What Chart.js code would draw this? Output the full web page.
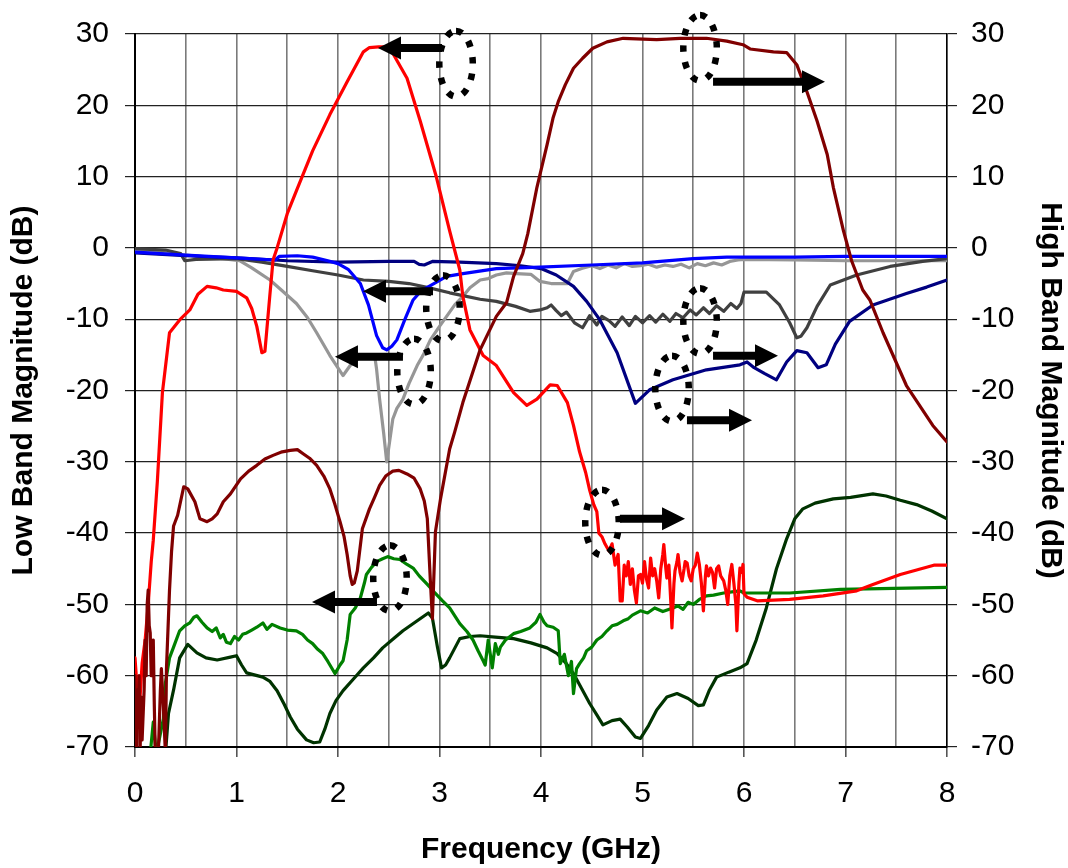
<!DOCTYPE html>
<html>
<head>
<meta charset="utf-8">
<script src="https://cdn.jsdelivr.net/npm/chart.js@4.4.1/dist/chart.umd.min.js"></script>
<style>
  html, body { margin: 0; padding: 0; background: #ffffff; }
  #wrap { width: 1068px; height: 868px; }
</style>
</head>
<body>
<div id="wrap"><canvas id="c" width="1068" height="868"></canvas></div>
<script>
// ---------------- DATA (frequency GHz, magnitude dB) ----------------
const xTickValues = [0, 1, 2, 3, 4, 5, 6, 7, 8];
const yTickValues = [30, 20, 10, 0, -10, -20, -30, -40, -50, -60, -70];

// High band S21 (maroon, right axis)
const highS21 = [[0,-60],[0.01,-71],[0.015,-62],[0.02,-64],[0.03,-66],[0.04,-60],[0.05,-71],[0.06,-63],[0.07,-69],[0.09,-62],[0.1,-55],[0.11,-60],[0.12,-50],[0.13,-48],[0.14,-53],[0.15,-54],[0.16,-60],[0.17,-56],[0.18,-55],[0.19,-64],[0.2,-71],[0.23,-71],[0.25,-62],[0.26,-59],[0.28,-64.5],[0.3,-71],[0.31,-59],[0.34,-48],[0.36,-42.6],[0.38,-39],[0.42,-37.5],[0.48,-33.5],[0.52,-33.8],[0.59,-35.6],[0.64,-38],[0.71,-38.4],[0.76,-38],[0.81,-37.3],[0.87,-35.6],[0.94,-34.5],[1.04,-32.4],[1.12,-31.3],[1.2,-30.5],[1.28,-29.6],[1.36,-29.1],[1.45,-28.6],[1.53,-28.4],[1.6,-28.3],[1.66,-28.9],[1.72,-29.5],[1.79,-30.5],[1.86,-32],[1.92,-33.8],[1.97,-36],[2.02,-38.4],[2.06,-40.5],[2.09,-43],[2.12,-46],[2.14,-47.2],[2.16,-47],[2.19,-45.3],[2.24,-39.4],[2.31,-36.6],[2.36,-35],[2.41,-33.3],[2.47,-32],[2.54,-31.3],[2.6,-31.2],[2.68,-31.7],[2.75,-32.3],[2.81,-33.8],[2.85,-35.5],[2.88,-38],[2.91,-46.7],[2.93,-52],[2.96,-39.8],[3.01,-35.2],[3.1,-28.2],[3.15,-25.8],[3.23,-21.7],[3.4,-14.3],[3.56,-9.6],[3.66,-7.7],[3.73,-4],[3.82,-0.8],[3.87,2],[3.96,8.5],[4.06,14.5],[4.12,18.3],[4.17,20.5],[4.24,22.9],[4.32,25.2],[4.41,26.6],[4.51,28],[4.65,28.9],[4.81,29.4],[5.14,29.2],[5.37,29.4],[5.63,29.4],[5.83,29],[5.99,28.5],[6.06,27.9],[6.29,27.5],[6.42,27.4],[6.52,25.7],[6.62,21.9],[6.72,17.8],[6.82,13.1],[6.88,8.5],[6.98,2.4],[7.06,-1.8],[7.17,-5.9],[7.24,-7.3],[7.37,-11.9],[7.6,-19.3],[7.86,-24.9],[8,-27.2]];

// Low band S21 (red, left axis)
const lowS21 = [[0,-57.5],[0.02,-61.6],[0.03,-66],[0.05,-63],[0.07,-58.3],[0.1,-55],[0.13,-50],[0.16,-44],[0.18,-41],[0.22,-32.8],[0.27,-20.3],[0.34,-11.9],[0.44,-10.1],[0.54,-8.7],[0.62,-6.5],[0.71,-5.4],[0.8,-5.6],[0.87,-5.9],[1.0,-6.1],[1.1,-7],[1.15,-8.5],[1.2,-11],[1.25,-14.7],[1.28,-14.5],[1.33,-6.4],[1.36,-1.7],[1.4,0],[1.5,4.8],[1.59,8],[1.75,13.6],[1.92,18.7],[2.09,23.3],[2.25,27.5],[2.31,28.1],[2.4,28.2],[2.46,28.2],[2.54,27.3],[2.68,23.8],[2.81,17.8],[2.97,9.9],[3.1,2.4],[3.2,-3.1],[3.23,-6.8],[3.3,-11.5],[3.43,-15.1],[3.56,-16.5],[3.73,-20.3],[3.86,-22.1],[3.96,-21.2],[4.09,-19.2],[4.16,-19.3],[4.26,-21.7],[4.32,-24.9],[4.38,-28.6],[4.44,-31.5],[4.48,-34],[4.52,-36],[4.55,-37],[4.57,-40],[4.6,-40.5],[4.63,-41.5],[4.67,-42.5],[4.7,-41.5],[4.73,-44.5],[4.76,-43],[4.78,-49.5],[4.8,-49.5],[4.82,-44.5],[4.84,-46],[4.86,-44],[4.88,-47.2],[4.9,-45],[4.92,-48],[4.94,-49.8],[4.96,-46],[4.98,-45.8],[5.0,-47],[5.02,-44],[5.04,-46.5],[5.06,-47.7],[5.08,-43.5],[5.1,-46],[5.12,-45],[5.14,-46.7],[5.16,-49.1],[5.18,-45],[5.2,-43],[5.21,-41.6],[5.23,-45],[5.24,-46.3],[5.26,-44.5],[5.28,-50],[5.29,-53.3],[5.31,-47],[5.32,-45.3],[5.34,-44],[5.35,-43],[5.37,-45.5],[5.39,-46.7],[5.41,-45],[5.42,-44],[5.44,-44.2],[5.46,-46],[5.48,-46.7],[5.5,-45],[5.52,-44.5],[5.54,-42.8],[5.56,-44.4],[5.58,-47],[5.6,-50.9],[5.62,-46],[5.63,-44.6],[5.65,-46],[5.67,-44.9],[5.69,-45.5],[5.71,-47.7],[5.73,-45],[5.75,-44.6],[5.77,-46],[5.8,-46.7],[5.82,-48],[5.84,-50],[5.86,-46],[5.88,-44.4],[5.9,-47],[5.92,-50],[5.93,-53.7],[5.95,-47],[5.96,-44.9],[5.98,-45.5],[5.99,-44.4],[6.0,-48.5],[6.03,-49],[6.13,-49.5],[6.45,-49.3],[6.78,-48.8],[7.11,-48.1],[7.27,-47.2],[7.54,-45.8],[7.87,-44.5],[8,-44.5]];

// Low band S11 (blue, left axis)
const lowS11 = [[0,-0.6],[0.5,-1.0],[1.0,-1.4],[1.38,-1.7],[1.42,-1.2],[1.6,-1.1],[1.75,-1.3],[1.9,-1.8],[2.0,-2.2],[2.1,-3],[2.22,-5],[2.3,-8],[2.38,-12.3],[2.44,-14],[2.48,-14.3],[2.53,-13.8],[2.58,-12.9],[2.66,-10],[2.74,-7.3],[2.82,-6],[2.91,-5.3],[3.07,-4],[3.23,-3.6],[3.56,-2.9],[3.99,-2.7],[4.5,-2.4],[5.0,-2.1],[5.5,-1.5],[5.83,-1.3],[6.5,-1.3],[7,-1.2],[8,-1.2]];

// High band S11 (navy, right axis)
const highS11 = [[0,-0.7],[0.5,-1.1],[1.0,-1.4],[1.5,-1.8],[2.0,-2.0],[2.5,-1.9],[2.75,-1.9],[2.8,-2.3],[2.85,-2.4],[2.93,-1.9],[3.2,-2.0],[3.56,-2.2],[3.8,-2.5],[4.0,-2.9],[4.15,-3.8],[4.32,-5.4],[4.45,-7.5],[4.58,-10.1],[4.75,-14.7],[4.93,-21.8],[5.07,-19.9],[5.3,-18.5],[5.63,-17.1],[5.96,-16.4],[6.03,-16],[6.1,-16.8],[6.2,-17.6],[6.32,-18.5],[6.42,-16],[6.52,-14.4],[6.62,-14.7],[6.73,-16.8],[6.81,-16.4],[6.9,-13.5],[7.04,-10.3],[7.27,-8],[7.6,-6.4],[7.8,-5.5],[8,-4.5]];

// High band isolation (dark gray, right axis)
const highIso = [[0,-0.1],[0.3,-0.3],[0.45,-0.8],[0.49,-1.8],[0.6,-1.6],[1.0,-1.5],[1.25,-2.0],[1.5,-2.6],[1.75,-3.2],[2.0,-3.8],[2.25,-4.5],[2.5,-4.7],[2.7,-5.0],[2.9,-5.6],[3.1,-6.3],[3.23,-6.7],[3.4,-7.2],[3.56,-7.5],[3.75,-8.2],[3.89,-8.9],[3.99,-8.7],[4.06,-8.4],[4.1,-8.0],[4.15,-8.8],[4.2,-9.5],[4.25,-9.0],[4.33,-10.5],[4.41,-11.2],[4.48,-9.5],[4.55,-10.8],[4.6,-9.6],[4.67,-10.2],[4.73,-11.0],[4.8,-9.7],[4.87,-10.9],[4.93,-9.6],[5.0,-10.5],[5.07,-9.5],[5.13,-10.4],[5.2,-9.3],[5.27,-10.3],[5.33,-9.2],[5.4,-9.8],[5.47,-8.7],[5.53,-9.4],[5.6,-8.4],[5.66,-9.2],[5.73,-8.1],[5.8,-8.9],[5.87,-7.8],[5.93,-8.5],[5.97,-7.8],[6.0,-6.2],[6.22,-6.2],[6.35,-8],[6.45,-10.5],[6.52,-12.6],[6.56,-12.4],[6.62,-11.2],[6.72,-8.2],[6.85,-5.2],[7.11,-3.8],[7.44,-2.6],[7.76,-1.9],[8,-1.5]];

// Low band isolation (light gray, left axis)
const lowIso = [[0,-0.2],[0.1,-0.4],[0.5,-1.0],[0.8,-1.4],[1.03,-1.8],[1.15,-2.8],[1.33,-4.5],[1.45,-6],[1.59,-7.8],[1.7,-9.8],[1.79,-11.9],[1.92,-15.1],[2.05,-17.9],[2.12,-16.5],[2.25,-15],[2.36,-15],[2.38,-17],[2.41,-21.2],[2.45,-26],[2.48,-30],[2.51,-27],[2.54,-24],[2.58,-22.5],[2.64,-21.2],[2.7,-19],[2.78,-16.5],[2.84,-15],[2.91,-12.9],[3.0,-11],[3.07,-9.6],[3.15,-8],[3.23,-6.8],[3.3,-5.6],[3.4,-4.5],[3.48,-4.3],[3.56,-3.8],[3.66,-3.5],[3.76,-3.6],[3.9,-3.7],[3.99,-4.7],[4.1,-5],[4.26,-5],[4.32,-3.3],[4.4,-2.9],[4.5,-2.5],[4.58,-2.9],[4.66,-2.4],[4.74,-2.8],[4.82,-2.2],[4.9,-2.6],[4.98,-2.5],[5.06,-2.3],[5.14,-2.7],[5.22,-2.4],[5.3,-2.6],[5.38,-2.3],[5.46,-2.8],[5.54,-2.2],[5.62,-2.5],[5.7,-2.1],[5.78,-2.4],[5.86,-1.9],[5.94,-1.7],[6.0,-1.6],[6.5,-1.7],[7,-1.8],[7.5,-1.8],[8,-1.8]];

// Low band out-of-band (green, left axis)
const lowOut = [[0.15,-71],[0.18,-66.5],[0.21,-71],[0.28,-66],[0.3,-61],[0.34,-57.5],[0.38,-56],[0.44,-53.7],[0.49,-53],[0.54,-52.6],[0.58,-51.8],[0.61,-51.6],[0.66,-52.5],[0.71,-53.3],[0.76,-53.8],[0.8,-53.3],[0.84,-54.7],[0.87,-54.2],[0.9,-55.3],[0.94,-55.5],[0.98,-54.5],[1.02,-55],[1.06,-54.2],[1.1,-54],[1.15,-53.6],[1.2,-53.2],[1.26,-52.6],[1.3,-53.5],[1.35,-52.8],[1.43,-53.3],[1.5,-53.6],[1.59,-53.7],[1.65,-54.2],[1.7,-55],[1.75,-55.5],[1.8,-56.3],[1.85,-56.9],[1.9,-58],[1.97,-59.7],[2.02,-58.5],[2.05,-57.9],[2.09,-55],[2.12,-51.4],[2.17,-50.5],[2.22,-49.1],[2.26,-47],[2.28,-45.8],[2.33,-44.8],[2.38,-44],[2.44,-43.6],[2.49,-43.3],[2.55,-43.6],[2.61,-43.7],[2.68,-44.4],[2.74,-44.9],[2.8,-46],[2.88,-47.2],[2.95,-48.3],[3.03,-49.5],[3.1,-50.5],[3.2,-52.7],[3.27,-53.8],[3.33,-55],[3.38,-56.5],[3.43,-57.9],[3.45,-58.5],[3.48,-55],[3.52,-58.9],[3.55,-55.5],[3.58,-57],[3.6,-56],[3.65,-55],[3.73,-54.1],[3.8,-53.8],[3.89,-53.3],[3.95,-52.5],[3.99,-51.4],[4.03,-52.5],[4.06,-53],[4.12,-53.2],[4.17,-53.7],[4.19,-58.3],[4.23,-57],[4.27,-60],[4.3,-58],[4.32,-62.5],[4.35,-59],[4.38,-58.3],[4.42,-57.5],[4.45,-56.5],[4.5,-56],[4.55,-55],[4.6,-54.5],[4.65,-53.7],[4.7,-53],[4.75,-52.8],[4.81,-52.3],[4.86,-52],[4.9,-51.5],[4.98,-50.9],[5.05,-51.2],[5.12,-50.5],[5.2,-51],[5.3,-50.5],[5.35,-50.2],[5.4,-50.7],[5.45,-49.7],[5.5,-50],[5.56,-49.3],[5.63,-48.8],[5.7,-48.7],[5.8,-48.4],[5.9,-48.2],[5.96,-48.1],[6.0,-48.4],[6.45,-48.4],[6.95,-47.9],[8,-47.6]];

// High band out-of-band (dark green, right axis)
const highOut = [[0.3,-71],[0.33,-65.3],[0.38,-62],[0.44,-57.5],[0.52,-55.6],[0.61,-56.8],[0.7,-57.5],[0.81,-57.8],[0.94,-57.4],[1.0,-57.2],[1.05,-58.5],[1.1,-59.6],[1.26,-60.2],[1.33,-60.8],[1.4,-62.1],[1.47,-64],[1.53,-65.8],[1.6,-67.5],[1.69,-69],[1.76,-69.4],[1.82,-69.3],[1.87,-67.5],[1.92,-65.3],[1.98,-63.5],[2.05,-62.1],[2.15,-60.5],[2.25,-58.9],[2.35,-57.5],[2.44,-56.1],[2.54,-54.9],[2.64,-53.7],[2.77,-52.4],[2.89,-51.2],[2.93,-51.9],[2.98,-56],[3.02,-58.9],[3.06,-58.5],[3.1,-57.5],[3.2,-54.8],[3.3,-54.5],[3.4,-54.4],[3.55,-54.6],[3.73,-54.8],[3.9,-55.4],[4.06,-56.1],[4.16,-56.9],[4.25,-58.3],[4.32,-59.7],[4.4,-61.8],[4.48,-63.9],[4.55,-65.5],[4.61,-66.9],[4.7,-66.3],[4.78,-66.1],[4.85,-67.2],[4.93,-68.6],[4.98,-68.8],[5.06,-67],[5.14,-64.8],[5.24,-63],[5.34,-62.5],[5.45,-63.2],[5.55,-64.2],[5.6,-64.1],[5.66,-62],[5.73,-60.2],[5.85,-59.5],[5.96,-58.9],[6.03,-58.3],[6.12,-55],[6.22,-50.5],[6.32,-45],[6.42,-40.8],[6.5,-38],[6.58,-36.6],[6.7,-35.8],[6.88,-35.2],[7.05,-35],[7.27,-34.5],[7.4,-34.8],[7.54,-35.4],[7.7,-36],[7.85,-36.9],[8,-38]];

// Annotation marks (in data units): arrows [tailF, tailDB, tipF, tipDB], ellipses [centerF, centerDB]
const annoArrows = [[3.025,28.05,2.394,28.05],[5.695,23.31,6.798,23.31],[2.936,-6.07,2.246,-6.07],[2.640,-15.26,1.970,-15.26],[5.695,-15.13,6.335,-15.13],[5.438,-24.18,6.079,-24.18],[2.384,-49.67,1.744,-49.67],[4.778,-37.97,5.419,-37.97]];
const annoEllipses = [[3.163,25.82],[5.567,28.05],[3.034,-8.44],[2.749,-17.35],[5.567,-10.25],[5.291,-19.72],[2.512,-46.32],[4.601,-38.52]];

// ---------------- CHART ----------------
const FONT = '"Liberation Sans", Arial, Helvetica, sans-serif';
const series = [
  { name: 'High band S21', pts: highS21, color: '#800000', axis: 'y1' },
  { name: 'Low band S21', pts: lowS21, color: '#ff0000', axis: 'y' },
  { name: 'Low band S11', pts: lowS11, color: '#0000ff', axis: 'y' },
  { name: 'High band S11', pts: highS11, color: '#000080', axis: 'y1' },
  { name: 'High band iso', pts: highIso, color: '#404040', axis: 'y1' },
  { name: 'Low band iso', pts: lowIso, color: '#969696', axis: 'y' },
  { name: 'Low band out', pts: lowOut, color: '#008000', axis: 'y' },
  { name: 'High band out', pts: highOut, color: '#003300', axis: 'y1' }
];

const datasets = series.map(s => ({
  label: s.name,
  data: s.pts.map(p => ({ x: p[0], y: p[1] })),
  borderColor: s.color,
  backgroundColor: s.color,
  borderWidth: 3.2,
  pointRadius: 0,
  tension: 0,
  fill: false,
  yAxisID: s.axis,
  borderJoinStyle: 'round',
  borderCapStyle: 'round'
}));

const annotationPlugin = {
  id: 'annos',
  afterDatasetsDraw(chart) {
    const { ctx } = chart;
    const xs = chart.scales.x, ys = chart.scales.y;
    ctx.save();
    ctx.fillStyle = '#000';
    ctx.strokeStyle = '#000';
    annoArrows.forEach(a => {
      const x0 = xs.getPixelForValue(a[0]), y0 = ys.getPixelForValue(a[1]);
      const x1 = xs.getPixelForValue(a[2]), y1 = ys.getPixelForValue(a[3]);
      const dx = x1 - x0, dy = y1 - y0, len = Math.hypot(dx, dy);
      const ux = dx / len, uy = dy / len, nx = -uy, ny = ux;
      const headL = 23, headW = 11.5, shaftW = 4;
      const bx = x1 - ux * headL, by = y1 - uy * headL;
      ctx.beginPath();
      ctx.moveTo(x0 + nx * shaftW, y0 + ny * shaftW);
      ctx.lineTo(bx + nx * shaftW, by + ny * shaftW);
      ctx.lineTo(bx + nx * headW, by + ny * headW);
      ctx.lineTo(x1, y1);
      ctx.lineTo(bx - nx * headW, by - ny * headW);
      ctx.lineTo(bx - nx * shaftW, by - ny * shaftW);
      ctx.lineTo(x0 - nx * shaftW, y0 - ny * shaftW);
      ctx.closePath();
      ctx.fill();
    });
    ctx.lineWidth = 6.5;
    ctx.setLineDash([6.5, 10]);
    ctx.lineCap = 'butt';
    annoEllipses.forEach(e => {
      const cx = xs.getPixelForValue(e[0]), cy = ys.getPixelForValue(e[1]);
      const rx = Math.abs(xs.getPixelForValue(e[0] + 0.165) - cx);
      const ry = Math.abs(ys.getPixelForValue(e[1] + 4.6) - cy);
      ctx.beginPath();
      ctx.ellipse(cx, cy, rx, ry, 0, -Math.PI / 2, Math.PI * 1.5);
      ctx.stroke();
    });
    ctx.restore();
  }
};

const tickFont = { family: FONT, size: 30 };
const titleFont = { family: FONT, size: 30, weight: 'bold' };

new Chart(document.getElementById('c').getContext('2d'), {
  type: 'line',
  data: { datasets },
  options: {
    responsive: false,
    animation: false,
    events: [],
    layout: { padding: { top: 29, left: 0, right: 0, bottom: 0 } },
    plugins: { legend: { display: false }, tooltip: { enabled: false } },
    scales: {
      x: {
        type: 'linear', min: 0, max: 8,
        afterBuildTicks: s => { const t = []; for (let v = 0; v <= 16; v++) t.push({ value: v / 2 }); s.ticks = t; },
        ticks: {
          autoSkip: false, maxRotation: 0, font: tickFont, color: '#000', padding: 19,
          callback: v => (xTickValues.includes(v) ? String(v) : '')
        },
        grid: {
          color: '#7a7a7a', lineWidth: 1.6, tickLength: 10,
          tickColor: c => (xTickValues.includes(c.tick.value) ? '#555' : 'rgba(0,0,0,0)')
        },
        border: { display: true, color: '#000', width: 2 },
        title: { display: true, text: 'Frequency (GHz)', font: titleFont, color: '#000', padding: { top: 0, bottom: 0 } },
        afterFit: s => { s.height = 121; }
      },
      y: {
        type: 'linear', position: 'left', min: -70, max: 30,
        afterBuildTicks: s => { s.ticks = yTickValues.map(v => ({ value: v })); },
        ticks: { font: tickFont, color: '#000', padding: 16 },
        grid: { color: '#222', lineWidth: 1.2, tickLength: 10 },
        border: { display: true, color: '#000', width: 2 },
        title: { display: true, text: 'Low Band Magnitude (dB)', font: titleFont, color: '#000', padding: { top: 6, bottom: 0 } },
        afterFit: s => { s.width = 135; }
      },
      y1: {
        type: 'linear', position: 'right', min: -70, max: 30,
        afterBuildTicks: s => { s.ticks = yTickValues.map(v => ({ value: v })); },
        ticks: { font: tickFont, color: '#000', padding: 14 },
        grid: { drawOnChartArea: false, color: '#222', lineWidth: 1.2, tickLength: 10 },
        border: { display: true, color: '#000', width: 1.5 },
        title: { display: true, text: 'High Band Magnitude (dB)', font: titleFont, color: '#000', padding: { top: 0, bottom: 0 } },
        afterFit: s => { s.width = 121; }
      }
    }
  },
  plugins: [annotationPlugin]
});
</script>
</body>
</html>
